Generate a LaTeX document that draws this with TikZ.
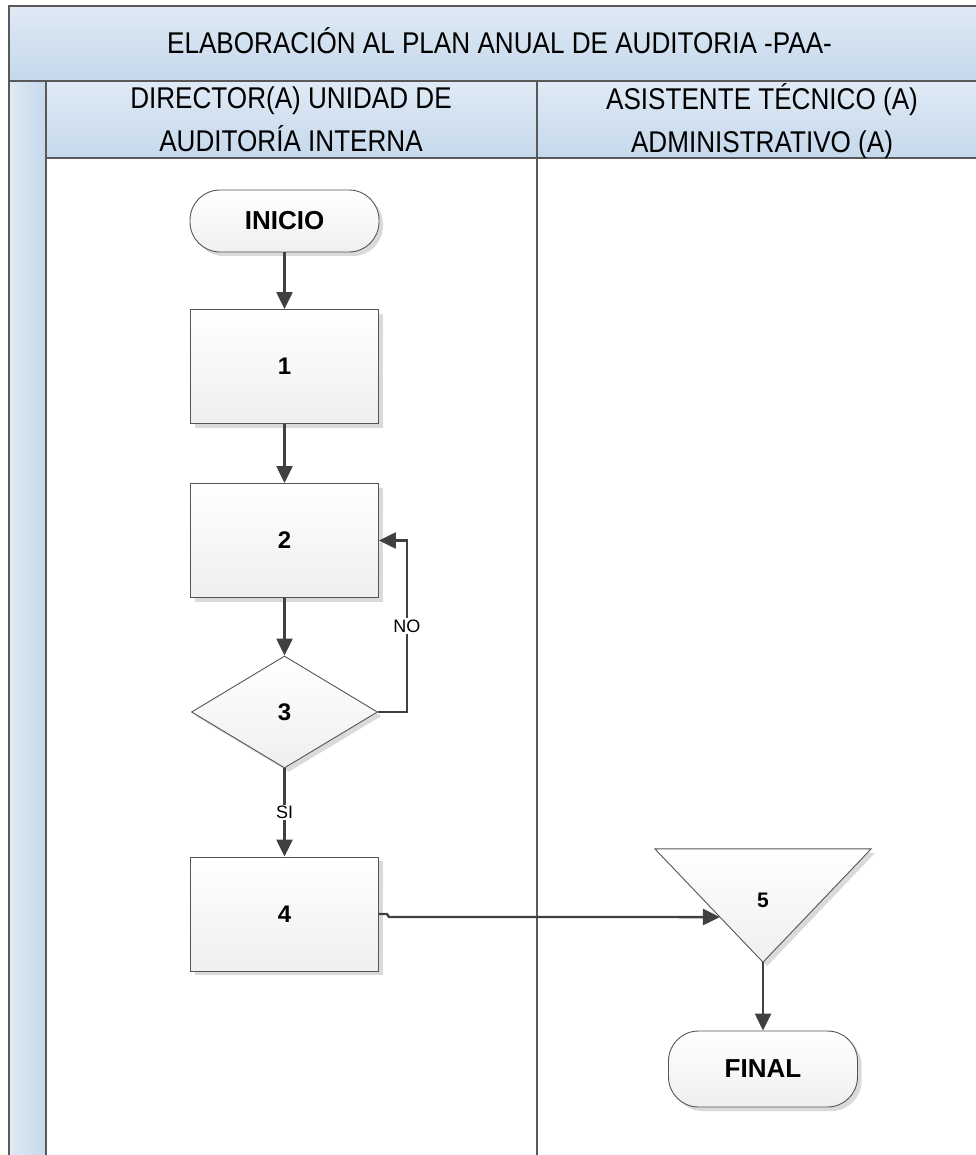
\documentclass[tikz,border=0pt]{standalone}
\usepackage{fontspec}
\setmainfont{Liberation Sans}
\newfontfamily\narrowfont[FakeStretch=0.87]{Liberation Sans}
\usetikzlibrary{arrows.meta,shadows,calc,shapes.geometric}
\definecolor{bandtop}{HTML}{DFEAF5}
\definecolor{bandbot}{HTML}{C5D8EB}
\definecolor{frameline}{HTML}{595959}
\definecolor{conncol}{HTML}{404040}
\definecolor{shapeline}{HTML}{555555}
\definecolor{shapebot}{HTML}{EFEFEF}
\definecolor{shadowcol}{HTML}{DADADA}
\begin{document}
\begin{tikzpicture}[x=1pt,y=-1pt,
  band/.style={draw=frameline, line width=1.4pt, top color=bandtop, bottom color=bandbot},
  stripe/.style={draw=frameline, line width=1.4pt, left color=bandtop, right color=bandbot},
  lanetext/.style={inner sep=0pt, align=center, font=\narrowfont\fontsize{30}{43}\selectfont},
  shapebase/.style={draw=shapeline, line width=0.9pt, top color=white, bottom color=shapebot,
    inner sep=0pt, general shadow={fill=shadowcol, shadow xshift=4pt, shadow yshift=-4pt}},
  procbox/.style={shapebase, rectangle, minimum width=188pt, minimum height=114pt,
    font=\bfseries\fontsize{24}{28}\selectfont},
  decbox/.style={shapebase, diamond, minimum width=186pt, minimum height=112pt,
    font=\bfseries\fontsize{24}{28}\selectfont},
  termbox/.style={shapebase, rectangle, rounded corners=30pt, minimum width=189pt,
    font=\bfseries\fontsize{26}{30}\selectfont},
  conn/.style={draw=conncol, line width=2.4pt, -{Triangle[length=17pt,width=16pt]}},
  flowlabel/.style={fill=white, inner sep=1.5pt, font=\fontsize{18}{21}\selectfont}
]
\useasboundingbox (0,0) rectangle (975,1155);
% pool frame
\path[stripe] (9,81) rectangle (46,1170);
\path[band] (46,81) rectangle (995,158);
\path[band] (9,6) rectangle (995,81);
\draw[draw=frameline, line width=1.4pt] (537,81) -- (537,1170);
% texts of the pool
\node[lanetext, anchor=base] (title) at (499.5,54) {ELABORACIÓN AL PLAN ANUAL DE AUDITORIA -PAA-};
\node[lanetext] (lane1) at (291,119.5) {DIRECTOR(A) UNIDAD DE\\AUDITORÍA INTERNA};
\node[lanetext] (lane2) at (762,121.5) {ASISTENTE TÉCNICO (A)\\ADMINISTRATIVO (A)};
% shapes
\node[termbox, minimum height=62pt] (ini) at (284.5,221) {INICIO};
\node[procbox] (b1) at (284.5,366.5) {1};
\node[procbox] (b2) at (284.5,540.5) {2};
\node[decbox] (d3) at (284.5,712) {3};
\node[procbox] (b4) at (284.5,914) {4};
\node[rectangle, minimum width=216pt, minimum height=113pt, inner sep=0pt] (t5) at (763,905.5) {};
\fill[shadowcol] ([xshift=4pt,yshift=-4pt]t5.north west) -- ([xshift=4pt,yshift=-4pt]t5.north east)
  -- ([xshift=4pt,yshift=-4pt]t5.south) -- cycle;
\path[draw=shapeline, line width=0.9pt, top color=white, bottom color=shapebot]
  (t5.north west) -- (t5.north east) -- (t5.south) -- cycle;
\node[font=\bfseries\fontsize{21}{25}\selectfont, inner sep=0pt] (l5) at ([yshift=5pt]t5.center) {5};
\node[termbox, minimum height=76pt] (fin) at (763,1069) {FINAL};
% connectors
\coordinate (t5in) at ($(t5.north west)!0.6018!(t5.south)$);
\draw[conn] (ini) -- (b1);
\draw[conn] (b1) -- (b2);
\draw[conn] (b2) -- (d3);
\draw[conn] (d3.east) -| ([xshift=28pt]b2.east) node[flowlabel, pos=0.75] {NO} -- (b2.east);
\draw[conn] (d3) -- node[flowlabel] {SI} (b4);
\draw[conn] (b4.east) -- ++(8,0) -- ++(2,3) -- (t5in);
\draw[conn] (t5.south) -- (fin);
\end{tikzpicture}
\end{document}
